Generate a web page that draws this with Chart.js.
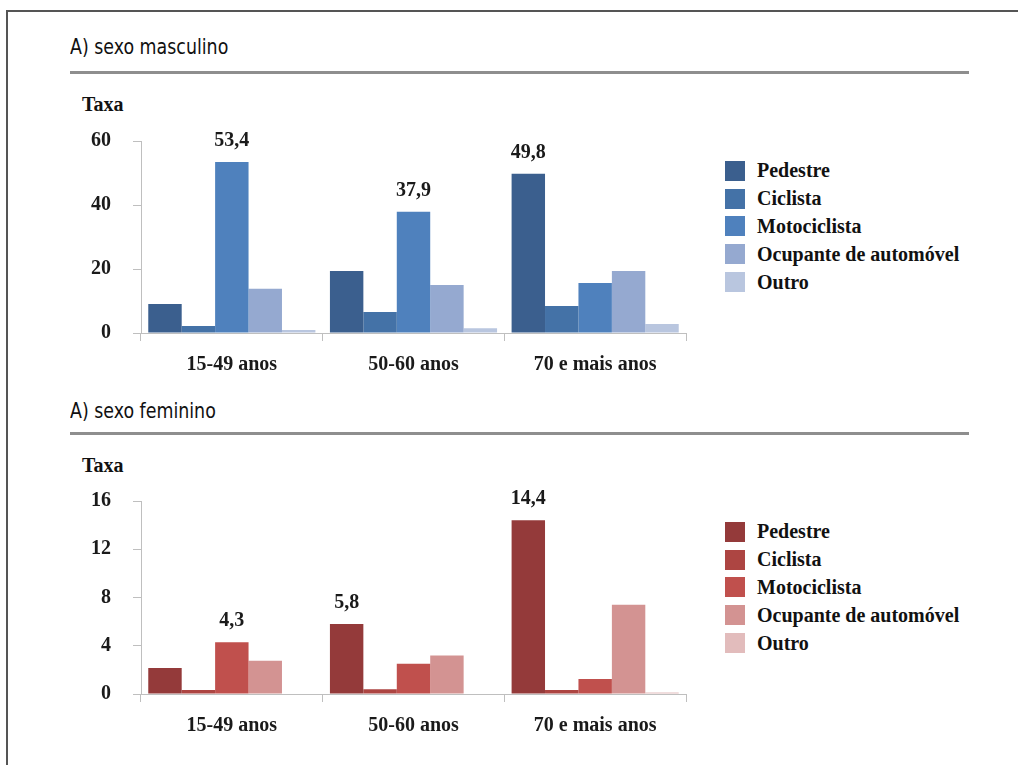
<!DOCTYPE html>
<html>
<head>
<meta charset="utf-8">
<script src="https://cdn.jsdelivr.net/npm/chart.js@4.4.1/dist/chart.umd.min.js"></script>
<style>
  html, body { margin: 0; padding: 0; background: #fff; width: 1018px; height: 765px; overflow: hidden; }
  .frame { position: absolute; left: 6px; top: 10px; width: 1200px; height: 1000px; border: 2px solid #555; }
  .title { position: absolute; left: 70px; font-family: 'DejaVu Sans Condensed', 'Liberation Sans Narrow', sans-serif; font-size: 22px; color: #111; transform: scaleX(0.88); transform-origin: left top; }
  .rule { position: absolute; left: 70px; width: 899px; height: 3px; background: #8e8e8e; }
  .taxa { position: absolute; left: 82px; font-family: 'Liberation Serif', serif; font-weight: bold; font-size: 20px; color: #111; }
  .box { position: absolute; }
  .legend { position: absolute; left: 725px; font-family: 'Liberation Serif', serif; font-weight: bold; font-size: 20px; color: #111; }
  .legend div { height: 27.8px; display: flex; align-items: center; white-space: nowrap; }
  .legend span { display: inline-block; width: 20px; height: 20px; margin-right: 12px; }
</style>
</head>
<body>
<div class="frame"></div>

<div class="title" style="top:34px">A) sexo masculino</div>
<div class="rule" style="top:71px"></div>
<div class="taxa" style="top:93px">Taxa</div>
<div class="box" style="left:69px; top:107px; width:621px; height:282px"><canvas id="male"></canvas></div>
<div class="legend" id="maleLegend" style="top:157px"></div>

<div class="title" style="top:398px">A) sexo feminino</div>
<div class="rule" style="top:432px"></div>
<div class="taxa" style="top:454px">Taxa</div>
<div class="box" style="left:69px; top:467px; width:621px; height:283px"><canvas id="female"></canvas></div>
<div class="legend" id="femaleLegend" style="top:518px"></div>

<script>
const categories = ['15-49 anos', '50-60 anos', '70 e mais anos'];
const seriesNames = ['Pedestre', 'Ciclista', 'Motociclista', 'Ocupante de automóvel', 'Outro'];

// sexo masculino
const malePedestre = [9.1, 19.4, 49.8];
const maleCiclista = [2.2, 6.6, 8.4];
const maleMotociclista = [53.4, 37.9, 15.6];
const maleOcupante = [13.8, 15.0, 19.4];
const maleOutro = [0.9, 1.5, 2.8];
const maleTicks = [0, 20, 40, 60];
const maleColors = ['#3b5f8e', '#4472a7', '#4f81bd', '#95a9d0', '#b9c6df'];

// sexo feminino
const femalePedestre = [2.15, 5.8, 14.4];
const femaleCiclista = [0.33, 0.4, 0.33];
const femaleMotociclista = [4.3, 2.5, 1.25];
const femaleOcupante = [2.75, 3.2, 7.4];
const femaleOutro = [0, 0, 0.12];
const femaleTicks = [0, 4, 8, 12, 16];
const femaleColors = ['#943a3a', '#ad4542', '#c0504d', '#d39392', '#e2bcbc'];

const font = { family: 'Liberation Serif', size: 20, weight: 'bold' };
const axisGray = '#bfbfbf';

// label only the tallest bar of each group, with a decimal comma
const peakLabels = {
  id: 'peakLabels',
  afterDatasetsDraw(chart) {
    const c = chart.ctx;
    c.save();
    c.font = 'bold 20px "Liberation Serif"';
    c.fillStyle = '#1a1a1a';
    c.textAlign = 'center';
    c.textBaseline = 'alphabetic';
    chart.data.labels.forEach((_, i) => {
      let best = 0;
      chart.data.datasets.forEach((ds, d) => {
        if (ds.data[i] > chart.data.datasets[best].data[i]) best = d;
      });
      const bar = chart.getDatasetMeta(best).data[i];
      const v = chart.data.datasets[best].data[i];
      c.fillText(v.toFixed(1).replace('.', ','), bar.x, bar.y - 16);
    });
    c.restore();
  }
};

function makeChart(id, legendId, series, colors, ticks) {
  const datasets = series.map((data, i) => ({
    label: seriesNames[i],
    data,
    backgroundColor: colors[i],
    borderWidth: 0,
    categoryPercentage: 0.92,
    barPercentage: 1
  }));

  new Chart(document.getElementById(id), {
    type: 'bar',
    data: { labels: categories, datasets },
    options: {
      responsive: true,
      maintainAspectRatio: false,
      animation: false,
      layout: { padding: { right: 4 } },
      scales: {
        x: {
          grid: { drawOnChartArea: false, color: axisGray, tickLength: 8, offset: true },
          border: { color: axisGray },
          ticks: { color: '#1a1a1a', font, padding: 12 }
        },
        y: {
          min: ticks[0],
          max: ticks[ticks.length - 1],
          afterBuildTicks: axis => { axis.ticks = ticks.map(v => ({ value: v })); },
          grid: { drawOnChartArea: false, color: axisGray, tickLength: 8 },
          border: { color: axisGray },
          ticks: { color: '#1a1a1a', font, padding: 22 }
        }
      },
      plugins: {
        legend: { display: false },
        tooltip: { enabled: false }
      }
    },
    plugins: [peakLabels]
  });

  const legendEl = document.getElementById(legendId);
  seriesNames.forEach((name, i) => {
    const row = document.createElement('div');
    const sw = document.createElement('span');
    sw.style.background = colors[i];
    row.appendChild(sw);
    row.appendChild(document.createTextNode(name));
    legendEl.appendChild(row);
  });
}

makeChart('male', 'maleLegend',
  [malePedestre, maleCiclista, maleMotociclista, maleOcupante, maleOutro], maleColors, maleTicks);
makeChart('female', 'femaleLegend',
  [femalePedestre, femaleCiclista, femaleMotociclista, femaleOcupante, femaleOutro], femaleColors, femaleTicks);
</script>
</body>
</html>
